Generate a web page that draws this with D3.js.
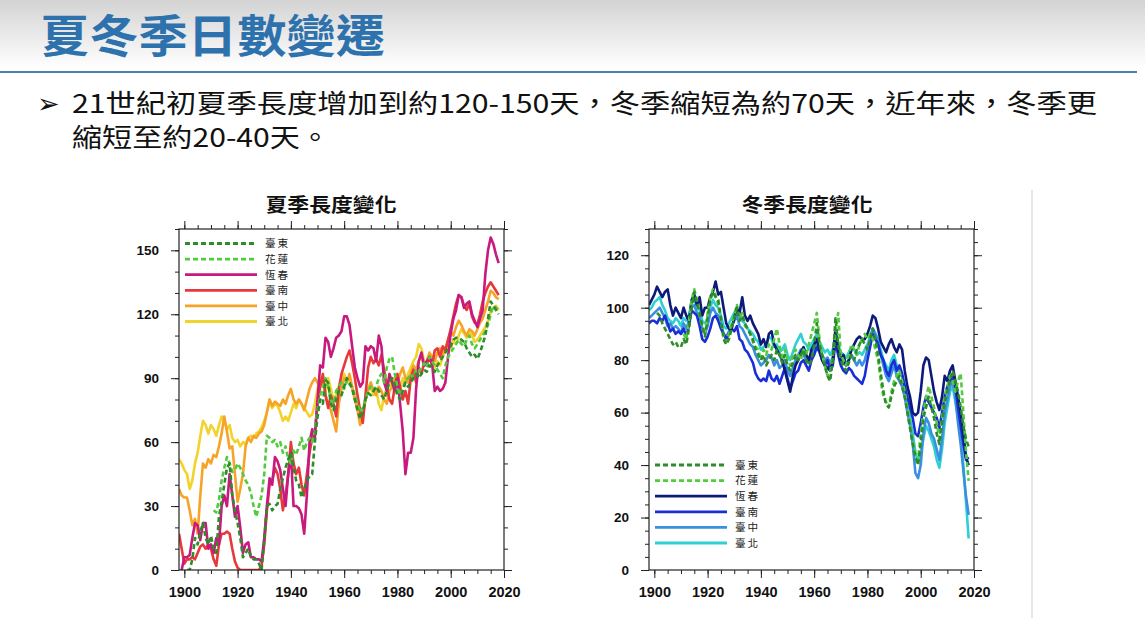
<!DOCTYPE html>
<html><head><meta charset="utf-8">
<script src="https://cdn.jsdelivr.net/npm/d3@7"></script>
<style>
html,body{margin:0;padding:0;background:#fff;}
svg{display:block;}
</style></head>
<body>
<svg id="c" width="1145" height="618"></svg>
<script>
// ---------- data ----------
const stationNames = ["臺東", "花蓮", "恆春", "臺南", "臺中", "臺北"];
const dashedFlags = [true, true, false, false, false, false];
const xTickYears = [1900, 1920, 1940, 1960, 1980, 2000, 2020];
const summerYTicks = [0, 30, 60, 90, 120, 150];
const winterYTicks = [0, 20, 40, 60, 80, 100, 120];

// summer season length (days)
const summerStart = [1901, 1911, 1899, 1898, 1898, 1898];
const summerTaitung = [0,0,5,15,12,18,22,15,12,
 16,10,8,25,32,40,48,50,35,28, 22,15,6,8,10,6,5,5,3,0, 14,30,31,28,30,31,38,43,48,52,
 55,48,42,40,34,38,42,44,45,60, 72,80,78,89,88,78,75,80,84,82, 86,90,88,85,80,75,71,74,80,83,
 82,84,86,84,82,80,84,88,90,86, 82,80,84,88,86,88,90,92,90,92, 94,93,96,95,93,96,98,100,102,104,
 105,108,109,109,108,107,104,102,100,101, 99,102,106,110,118,126,124,122,120];
const summerHualien = [28,27,33,42,48,53,50,46,47,
 50,48,45,42,40,36,30,25,30,35, 45,63,62,60,61,58,60,55,58,52, 50,56,54,58,62,56,60,62,60,65,
 75,82,85,90,86,80,78,84,86,88, 85,89,87,86,82,78,74,76,80,84, 86,84,86,90,92,88,95,99,100,92,
 86,82,85,89,90,92,90,94,93,95, 97,95,100,98,96,94,92,90,96,100, 102,104,106,108,106,105,108,110,106,104,
 106,108,110,112,115,120,124,123,122];
const summerHengchun = [0,
 6,6,7,15,22,21,14,22,22,10, 12,8,15,12,30,35,30,45,35,25, 30,20,8,12,13,6,6,5,5,4, 15,30,43,40,53,51,47,38,30,45,
 55,30,30,29,26,17,35,60,66,62, 80,96,95,109,107,100,104,109,110,112, 119,119,115,105,95,90,86,88,105,103,
 105,104,98,110,105,88,84,92,88,84, 90,78,65,45,55,55,62,85,98,102, 96,98,100,97,84,86,84,85,88,100,
 111,118,122,129,128,123,125,126,120,117, 114,118,122,139,150,156,153,148,144];
const summerTainan = [17,10,
 3,5,5,6,5,8,11,12,10,12, 10,5,2,12,17,17,18,17,10,4, 1,0,0,0,0,0,0,0,0,2, 12,28,40,42,48,45,38,28,35,45,
 60,50,45,48,40,35,45,55,62,65, 78,86,92,82,76,82,78,72,85,92, 96,100,103,97,90,82,75,69,82,95,
 100,97,99,96,101,94,86,80,78,86, 92,86,80,84,78,90,94,88,95,92, 97,96,100,96,103,104,100,105,103,108,
 113,119,125,129,128,124,122,125,119,116, 115,120,126,130,133,135,133,131,129];
const summerTaichung = [38,35,
 34,34,28,21,24,17,35,50,48,52, 50,54,53,58,64,72,65,57,58,45, 32,38,45,58,62,60,63,62,64,65, 68,74,80,77,79,78,77,80,78,82,
 85,80,78,80,78,75,80,85,88,90, 88,86,90,82,78,75,70,65,78,85, 90,88,92,86,80,75,68,72,80,85,
 88,84,82,86,84,80,78,84,86,90, 88,92,95,90,88,92,96,94,98,100, 96,98,102,100,98,102,104,101,104,108,
 112,110,114,117,115,112,110,113,112,110, 113,116,118,122,126,131,130,128,127];
const summerTaipei = [52,50,
 47,45,38,42,50,55,63,70,68,64, 68,66,63,68,72,70,66,68,62,60, 61,58,60,59,62,63,62,64,65,67, 70,74,80,76,78,77,74,70,72,70,
 74,78,76,80,78,76,74,72,73,78, 85,90,88,84,90,85,80,82,86,90, 92,88,90,85,82,78,72,75,80,84,
 86,82,85,78,75,82,85,88,86,84, 88,85,90,88,92,95,98,100,106,104, 98,96,100,97,95,98,96,100,103,105,
 104,108,106,110,113,111,109,112,110,107, 108,110,112,114,117,121,123,124,122];

// winter season length (days)
const winterStart = [1901, 1911, 1898, 1898, 1898, 1898];
const winterTaitung = [98,97,94,92,90,88,86,87,85,
 85,88,86,92,100,106,102,98,93,89, 96,103,106,104,103,96,88,86,88,92, 96,100,95,97,94,92,90,88,84,82,
 80,82,78,80,82,80,84,82,79,82, 78,76,79,82,80,82,84,80,78,80, 86,94,86,82,78,74,72,80,96,86,
 80,78,76,79,82,80,84,86,88,86, 84,88,92,88,82,75,68,63,62,66, 70,72,74,70,66,60,54,48,43,40,
 48,58,62,66,62,58,52,48,56,64, 68,72,76,72,68,62,55,50,47];
const winterHualien = [90,88,95,103,107,103,97,92,90,
 98,104,107,105,101,95,89,87,90,94, 97,101,96,98,93,92,90,87,85,84, 80,84,82,86,84,88,92,86,80,84,
 80,78,82,84,82,80,84,82,86,90, 94,98,88,82,78,74,75,82,90,98, 82,80,78,82,86,84,82,86,88,90,
 88,90,88,84,80,72,66,64,62,68, 72,74,76,72,68,62,56,50,44,42, 52,60,66,70,66,62,56,50,58,66,
 70,74,72,68,72,75,60,45,34];
const winterHengchun = [101,103,
 105,108,106,104,106,107,101,97,100,98, 96,100,97,95,103,105,101,104,97,100, 100,104,106,110,105,106,100,94,92,92, 96,100,98,104,97,95,97,94,92,90,
 86,88,85,90,91,86,84,82,80,76, 72,68,74,78,80,83,85,82,80,84, 86,88,84,80,78,77,76,80,92,84,
 80,82,78,80,84,86,88,89,88,88, 90,93,97,96,92,87,85,83,86,88, 85,83,86,84,76,70,66,60,59,60,
 68,78,81,80,74,68,64,61,66,74, 72,76,78,72,66,60,52,43,40];
const winterTainan = [94,95,
 95,94,96,95,97,94,91,92,90,91, 90,92,89,93,99,98,97,93,88,87, 89,92,96,97,95,92,90,88,90,92, 91,93,88,87,84,83,81,79,75,73,
 72,73,72,76,73,72,74,71,74,77, 73,69,72,75,76,79,80,78,76,80, 82,85,83,80,78,80,76,78,87,82,
 78,76,75,77,76,74,73,72,71,74, 80,85,90,88,86,82,80,76,74,78, 80,76,78,75,70,66,62,58,52,51,
 56,62,66,64,62,60,58,54,60,66, 70,72,74,70,62,55,48,42,43];
const winterTaichung = [96,97,
 98,99,100,98,96,93,94,92,93,92, 90,94,92,95,100,101,98,96,92,90, 93,98,100,98,97,94,90,89,91,93, 95,97,93,92,90,88,86,85,82,80,
 78,79,80,82,81,78,80,77,78,80, 76,74,77,80,82,84,82,80,79,82, 84,86,84,82,80,81,79,81,88,84,
 80,79,78,80,82,80,78,80,78,80, 84,88,92,90,87,82,78,74,72,75, 78,74,72,70,66,60,55,48,37,35,
 40,52,58,56,52,50,46,42,50,60, 65,70,72,66,56,48,38,28,21];
const winterTaipei = [99,100,
 102,103,104,101,99,96,95,94,96,95, 93,96,95,97,102,103,100,99,95,94, 96,100,103,101,100,97,93,92,94,96, 98,100,96,95,94,92,91,90,88,87,
 84,85,86,89,88,85,86,83,84,86, 82,80,83,86,88,90,87,86,84,86, 88,90,87,85,83,84,82,84,90,86,
 83,82,81,83,85,84,82,83,82,84, 86,89,92,90,88,84,80,78,76,80, 82,78,76,74,70,64,58,52,45,41,
 45,50,55,53,50,47,42,39,46,56, 62,68,70,64,58,52,40,26,12];

const summerValues = [summerTaitung, summerHualien, summerHengchun, summerTainan, summerTaichung, summerTaipei];
const winterValues = [winterTaitung, winterHualien, winterHengchun, winterTainan, winterTaichung, winterTaipei];
const summerColors = ["#2f8c2a", "#52cc3e", "#c8197f", "#e8393a", "#f6a427", "#f3d22c"];
const winterColors = ["#2f8c2a", "#52cc3e", "#0c1b7a", "#1a2ed8", "#3a8fe0", "#2fd0d3"];

// ---------- page ----------
const svg = d3.select("#c");
const defs = svg.append("defs");
const grad = defs.append("linearGradient").attr("id", "hdr").attr("x1", 0).attr("y1", 0).attr("x2", 0).attr("y2", 1);
grad.append("stop").attr("offset", "0%").attr("stop-color", "#d3d3d3");
grad.append("stop").attr("offset", "100%").attr("stop-color", "#ffffff");
svg.append("rect").attr("x", 0).attr("y", 0).attr("width", 1145).attr("height", 68).attr("fill", "url(#hdr)");

svg.append("text").attr("x", 40).attr("y", 53)
  .attr("font-family", "'Noto Sans CJK TC','Noto Sans CJK SC',sans-serif")
  .attr("font-size", 45).attr("font-weight", 700).attr("fill", "#2e72ad")
  .attr("textLength", 345).attr("lengthAdjust", "spacingAndGlyphs")
  .text("夏冬季日數變遷");
svg.append("line").attr("x1", 0).attr("x2", 1137).attr("y1", 72).attr("y2", 72)
  .attr("stroke", "#4a7eab").attr("stroke-width", 2);

svg.append("text").attr("x", 37).attr("y", 113)
  .attr("font-family", "'DejaVu Sans',sans-serif").attr("font-size", 27).attr("fill", "#111")
  .text("➢");
const bodyFont = "'Noto Sans CJK TC','Noto Sans CJK SC',sans-serif";
svg.append("text").attr("x", 72).attr("y", 113)
  .attr("font-family", bodyFont).attr("font-size", 26).attr("fill", "#111")
  .attr("textLength", 1025).attr("lengthAdjust", "spacingAndGlyphs")
  .text("21世紀初夏季長度增加到約120-150天，冬季縮短為約70天，近年來，冬季更");
svg.append("text").attr("x", 72).attr("y", 147)
  .attr("font-family", bodyFont).attr("font-size", 26).attr("fill", "#111")
  .attr("textLength", 258).attr("lengthAdjust", "spacingAndGlyphs")
  .text("縮短至約20-40天。");

svg.append("line").attr("x1", 1032).attr("x2", 1032).attr("y1", 190).attr("y2", 618)
  .attr("stroke", "#cfcfcf").attr("stroke-width", 1);

// ---------- charts ----------
function drawChart(cfg) {
  const g = svg.append("g");
  const x = d3.scaleLinear().domain([1898, 2020]).range([cfg.left, cfg.right]);
  const y = d3.scaleLinear().domain([0, cfg.yMax]).range([cfg.bottom, cfg.top]);
  const minorX = d3.range(1900, 2021, 5);
  const minorY = d3.range(0, cfg.yMax + 0.1, cfg.yMinor);

  const axStyle = size => sel => {
    sel.select(".domain").remove();
    sel.selectAll(".tick line").attr("stroke", "#222").attr("stroke-width", 1);
    sel.selectAll(".tick text").attr("font-family", "'Liberation Sans',Arial,sans-serif")
      .attr("font-weight", 700).attr("font-size", size).attr("fill", "#111");
  };
  // minor ticks
  g.append("g").attr("transform", `translate(0,${cfg.bottom})`)
    .call(d3.axisBottom(x).tickValues(minorX).tickSize(4).tickFormat("")).call(axStyle(13));
  g.append("g").attr("transform", `translate(0,${cfg.top})`)
    .call(d3.axisTop(x).tickValues(minorX).tickSize(4).tickFormat("")).call(axStyle(13));
  g.append("g").attr("transform", `translate(${cfg.left},0)`)
    .call(d3.axisLeft(y).tickValues(minorY).tickSize(4).tickFormat("")).call(axStyle(13));
  g.append("g").attr("transform", `translate(${cfg.right},0)`)
    .call(d3.axisRight(y).tickValues(minorY).tickSize(4).tickFormat("")).call(axStyle(13));
  // major ticks
  g.append("g").attr("transform", `translate(0,${cfg.bottom})`)
    .call(d3.axisBottom(x).tickValues(xTickYears).tickSize(8).tickPadding(9).tickFormat(d3.format("d"))).call(axStyle(14.5));
  g.append("g").attr("transform", `translate(0,${cfg.top})`)
    .call(d3.axisTop(x).tickValues(xTickYears).tickSize(8).tickFormat("")).call(axStyle(13));
  g.append("g").attr("transform", `translate(${cfg.left},0)`)
    .call(d3.axisLeft(y).tickValues(cfg.yTicks).tickSize(8).tickPadding(12)).call(axStyle(13.5));
  g.append("g").attr("transform", `translate(${cfg.right},0)`)
    .call(d3.axisRight(y).tickValues(cfg.yTicks).tickSize(8).tickFormat("")).call(axStyle(13));

  // clip
  const clipId = "clip" + cfg.left;
  defs.append("clipPath").attr("id", clipId).append("rect")
    .attr("x", cfg.left).attr("y", cfg.top).attr("width", cfg.right - cfg.left).attr("height", cfg.bottom - cfg.top);

  const line = d3.line().x(d => x(d[0])).y(d => y(d[1]));
  const order = [5, 4, 3, 2, 1, 0];
  const lg = g.append("g").attr("clip-path", `url(#${clipId})`);
  order.forEach(i => {
    const pts = cfg.values[i].map((v, k) => [cfg.starts[i] + k, v]);
    lg.append("path").attr("d", line(pts)).attr("fill", "none")
      .attr("stroke", cfg.colors[i]).attr("stroke-width", 2.6)
      .attr("stroke-linejoin", "round")
      .attr("stroke-dasharray", dashedFlags[i] ? "5,3" : null);
  });

  // frame
  g.append("rect").attr("x", cfg.left).attr("y", cfg.top)
    .attr("width", cfg.right - cfg.left).attr("height", cfg.bottom - cfg.top)
    .attr("fill", "none").attr("stroke", "#222").attr("stroke-width", 1.2);

  // title
  g.append("text").attr("x", cfg.titleX).attr("y", 212).attr("text-anchor", "middle")
    .attr("font-family", bodyFont).attr("font-size", 19).attr("font-weight", 700).attr("fill", "#111")
    .attr("textLength", 131).attr("lengthAdjust", "spacingAndGlyphs")
    .text(cfg.title);

  // legend
  stationNames.forEach((name, i) => {
    const ly = cfg.legY + i * 15.6;
    g.append("line").attr("x1", cfg.legX).attr("x2", cfg.legX + 72).attr("y1", ly).attr("y2", ly)
      .attr("stroke", cfg.colors[i]).attr("stroke-width", 2.8)
      .attr("stroke-dasharray", dashedFlags[i] ? "5,3" : null);
    g.append("text").attr("x", cfg.legX + 80).attr("y", ly).attr("dy", "0.36em")
      .attr("font-family", bodyFont).attr("font-size", 10.6).attr("fill", "#222")
      .attr("letter-spacing", 2)
      .text(name);
  });
}

drawChart({left: 179, right: 504, top: 229, bottom: 570, yMax: 160, yMinor: 10, yTicks: summerYTicks,
  starts: summerStart, values: summerValues, colors: summerColors, title: "夏季長度變化", titleX: 331,
  legX: 185, legY: 243.5});
drawChart({left: 649, right: 974, top: 229, bottom: 570, yMax: 130, yMinor: 5, yTicks: winterYTicks,
  starts: winterStart, values: winterValues, colors: winterColors, title: "冬季長度變化", titleX: 807,
  legX: 655, legY: 465});
</script>
</body></html>
